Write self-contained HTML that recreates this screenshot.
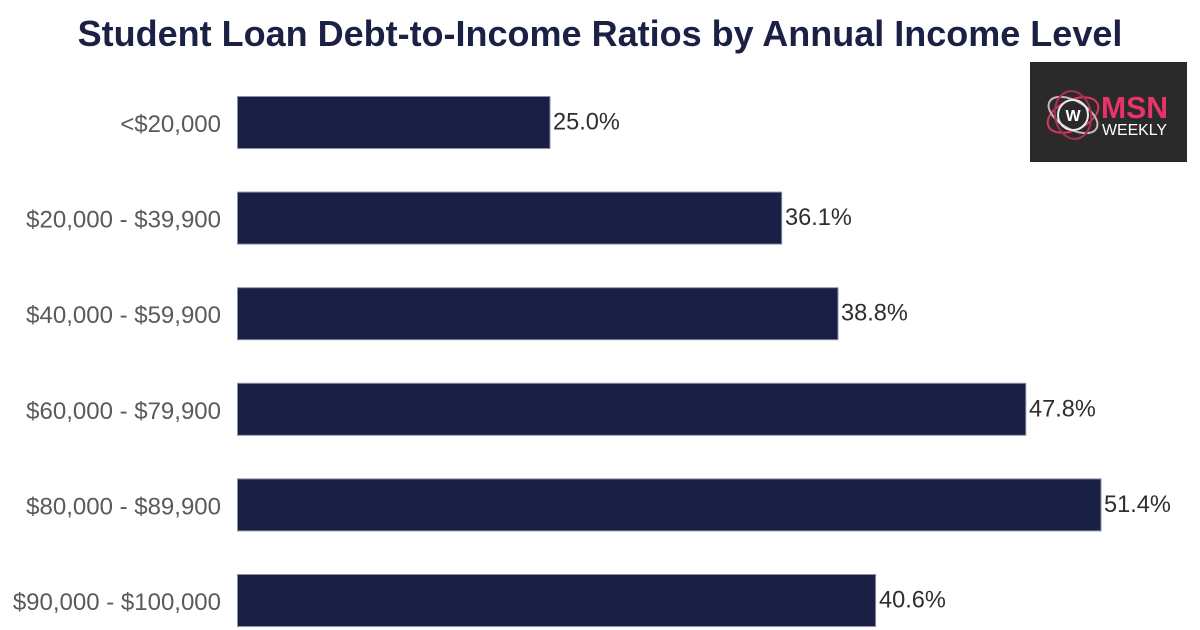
<!DOCTYPE html>
<html>
<head>
<meta charset="utf-8">
<style>
  html, body { margin: 0; padding: 0; background: #ffffff; }
  svg { display: block; }
</style>
</head>
<body>
<svg width="1200" height="630" viewBox="0 0 1200 630" xmlns="http://www.w3.org/2000/svg">
  <rect width="1200" height="630" fill="#ffffff"/>
  <text x="600" y="46" text-anchor="middle" font-family="Liberation Sans, Arial, sans-serif" font-weight="bold" font-size="36" fill="#1b2145">Student Loan Debt-to-Income Ratios by Annual Income Level</text>

  <g fill="#1a1f45" stroke="#8a90a8" stroke-width="1">
    <rect x="237.5" y="96.5" width="312.5" height="52"/>
    <rect x="237.5" y="192.1" width="544.2" height="52"/>
    <rect x="237.5" y="287.7" width="600.5" height="52"/>
    <rect x="237.5" y="383.3" width="788.3" height="52"/>
    <rect x="237.5" y="478.9" width="863.5" height="52"/>
    <rect x="237.5" y="574.5" width="638.1" height="52"/>
  </g>

  <g font-family="Liberation Sans, Arial, sans-serif" font-size="24" fill="#5a5a5a" text-anchor="end">
    <text x="221" y="132">&lt;$20,000</text>
    <text x="221" y="227.6">$20,000 - $39,900</text>
    <text x="221" y="323.2">$40,000 - $59,900</text>
    <text x="221" y="418.8">$60,000 - $79,900</text>
    <text x="221" y="514.4">$80,000 - $89,900</text>
    <text x="221" y="610">$90,000 - $100,000</text>
  </g>

  <g font-family="Liberation Sans, Arial, sans-serif" font-size="23.6" fill="#2e2e2e">
    <text x="553" y="129.5">25.0%</text>
    <text x="785" y="225.1">36.1%</text>
    <text x="841" y="320.7">38.8%</text>
    <text x="1029" y="416.3">47.8%</text>
    <text x="1104" y="511.9">51.4%</text>
    <text x="879" y="607.5">40.6%</text>
  </g>

  <!-- Logo -->
  <rect x="1030" y="62" width="157" height="100" fill="#2b2a2b"/>
  <g fill="none" stroke-width="2">
    <ellipse cx="1073" cy="115" rx="27" ry="15" transform="rotate(-25 1073 115)" stroke="#e0335f"/>
    <ellipse cx="1073" cy="115" rx="27" ry="14" transform="rotate(30 1073 115)" stroke="#c9b5bb"/>
    <ellipse cx="1073" cy="115" rx="24" ry="18" transform="rotate(80 1073 115)" stroke="#a8314f"/>
    <circle cx="1073" cy="115" r="15" stroke="#ececec" stroke-width="2"/>
  </g>
  <text x="1073" y="121" text-anchor="middle" font-family="Liberation Sans, Arial, sans-serif" font-weight="bold" font-size="16" fill="#ffffff">W</text>
  <text x="1101" y="118" font-family="Liberation Sans, Arial, sans-serif" font-weight="bold" font-size="31" fill="#e8336b" textLength="67" lengthAdjust="spacingAndGlyphs">MSN</text>
  <text x="1102" y="135" font-family="Liberation Sans, Arial, sans-serif" font-size="16" fill="#ffffff" textLength="65" lengthAdjust="spacingAndGlyphs">WEEKLY</text>
</svg>
</body>
</html>
